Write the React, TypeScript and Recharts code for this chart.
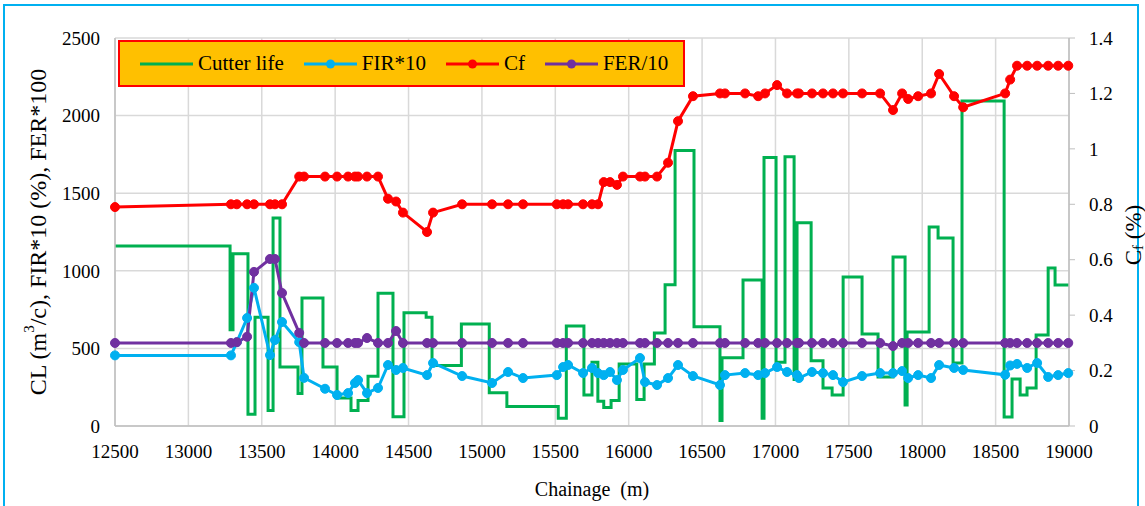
import { ComposedChart, Line, XAxis, YAxis, CartesianGrid, Legend } from 'recharts';

const FONT = '"Liberation Serif", "Times New Roman", serif';

// chainage of the sampled points (m)
const pointChainage = [
  12500, 13290, 13330, 13400, 13447, 13556, 13590, 13638, 13755, 13788,
  13931, 14013, 14088, 14135, 14156, 14217, 14292, 14360, 14415, 14462,
  14626, 14667, 14865, 15069, 15178, 15280, 15510, 15553, 15587, 15689,
  15750, 15791, 15830, 15873, 15920, 15961, 16077, 16111, 16193, 16268,
  16336, 16438, 16622, 16656, 16793, 16882, 16929, 17011, 17079, 17147,
  17160, 17249, 17324, 17392, 17460, 17590, 17713, 17801, 17863, 17904,
  17972, 18060, 18115, 18217, 18279, 18565, 18599, 18646, 18715, 18783,
  18858, 18926, 18995,
];

// Cf (%), right axis
const cfValues = [
  0.79, 0.8, 0.8, 0.8, 0.8, 0.8, 0.8, 0.8, 0.9, 0.9,
  0.9, 0.9, 0.9, 0.9, 0.9, 0.9, 0.9, 0.82, 0.81, 0.77,
  0.7, 0.77, 0.8, 0.8, 0.8, 0.8, 0.8, 0.8, 0.8, 0.8,
  0.8, 0.8, 0.88, 0.88, 0.87, 0.9, 0.9, 0.9, 0.9, 0.95,
  1.1, 1.19, 1.2, 1.2, 1.2, 1.19, 1.2, 1.23, 1.2, 1.2,
  1.2, 1.2, 1.2, 1.2, 1.2, 1.2, 1.2, 1.14, 1.2, 1.18,
  1.19, 1.2, 1.27, 1.19, 1.15, 1.2, 1.25, 1.3, 1.3, 1.3,
  1.3, 1.3, 1.3,
];

// FIR*10
const firValues = [
  455, 455, 540, 696, 890, 457, 554, 670, 540, 310,
  240, 200, 212, 277, 296, 212, 245, 393, 361, 374,
  328, 406, 322, 277, 348, 309, 328, 380, 393, 341,
  374, 341, 328, 348, 296, 361, 438, 283, 264, 309,
  393, 322, 264, 328, 341, 328, 341, 380, 348, 328,
  309, 348, 341, 328, 283, 322, 341, 341, 354, 309,
  328, 309, 393, 374, 361, 330, 390, 400, 374, 406,
  316, 328, 341,
];

// FER/10
const ferValues = [
  535, 535, 540, 575, 993, 1076, 1076, 857, 600, 535,
  535, 535, 535, 535, 535, 567, 535, 535, 612, 535,
  535, 535, 535, 535, 535, 535, 535, 535, 535, 535,
  535, 535, 535, 535, 535, 535, 535, 535, 535, 535,
  535, 535, 535, 535, 535, 535, 535, 535, 535, 535,
  535, 535, 535, 535, 535, 535, 535, 515, 535, 535,
  535, 535, 535, 535, 535, 535, 535, 535, 535, 535,
  535, 535, 535,
];

// cutter life steps: value holds from this chainage to the next one
const lifeChainage = [
  12500, 13284, 13304, 13406, 13454, 13543, 13577, 13624, 13747, 13774,
  13917, 14013, 14108, 14156, 14224, 14292, 14394, 14469, 14620, 14660,
  14860, 15050, 15170, 15520, 15575, 15695, 15750, 15790, 15830, 15880,
  15935, 16055, 16105, 16175, 16248, 16316, 16445, 16622, 16636, 16779,
  16909, 16922, 17004, 17065, 17127, 17147, 17243, 17324, 17386, 17461,
  17590, 17699, 17801, 17883, 17897, 18047, 18108, 18210, 18271, 18558,
  18612, 18667, 18714, 18776, 18858, 18905, 19000,
];
const lifeValues = [
  1160, 620, 1110, 75, 700, 100, 1340, 380, 210, 825,
  380, 180, 100, 165, 320, 855, 60, 730, 700, 390,
  657, 215, 125, 50, 645, 200, 410, 160, 120, 165,
  400, 170, 400, 600, 910, 1775, 640, 35, 440, 940,
  50, 1730, 410, 1735, 300, 1310, 420, 245, 200, 960,
  593, 316, 1089, 135, 606, 1282, 1211, 406, 2094, 58,
  303, 200, 245, 586, 1018, 908, 908,
];

const xTicks = [12500, 13000, 13500, 14000, 14500, 15000, 15500, 16000, 16500, 17000, 17500, 18000, 18500, 19000];
const leftTicks = [0, 500, 1000, 1500, 2000, 2500];
const rightTicks = [0, 0.2, 0.4, 0.6, 0.8, 1, 1.2, 1.4];

const pointRows = pointChainage.map((x, i) => ({ x, cf: cfValues[i], fir: firValues[i], fer: ferValues[i] }));
const lifeRows = lifeChainage.map((x, i) => ({ x, life: lifeValues[i] }));

const legendItems = [
  { name: 'Cutter life', color: '#00B050', dot: false },
  { name: 'FIR*10', color: '#00B0F0', dot: true },
  { name: 'Cf', color: '#FF0000', dot: true },
  { name: 'FER/10', color: '#7030A0', dot: true },
];

function LegendBox() {
  return (
    <div style={{
      width: 567, height: 47, boxSizing: 'border-box', background: '#FFC000',
      border: '2px solid #FF0000', display: 'flex', alignItems: 'center',
      paddingLeft: 20, fontSize: 21, fontFamily: FONT, color: '#000', whiteSpace: 'nowrap',
    }}>
      {legendItems.map((it) => (
        <div key={it.name} style={{ display: 'flex', alignItems: 'center', marginRight: 20, flexShrink: 0 }}>
          <svg width={53} height={12}>
            <line x1={0} x2={53} y1={6} y2={6} stroke={it.color} strokeWidth={3} />
            {it.dot && <circle cx={26.5} cy={6} r={4.5} fill={it.color} />}
          </svg>
          <span style={{ marginLeft: 5 }}>{it.name}</span>
        </div>
      ))}
    </div>
  );
}

const leftTitle = () => {
  const cx = 38;
  const cy = 232;
  return (
    <text x={cx} y={cy} transform={`rotate(-90 ${cx} ${cy})`} textAnchor="middle" dominantBaseline="central"
      fontSize={24} fill="#000" fontFamily={FONT}>
      CL (m<tspan fontSize={15} dy={-9}>3</tspan><tspan dy={9}>/c), FIR*10 (%), FER*100</tspan>
    </text>
  );
};

const rightTitle = () => {
  const cx = 1133;
  const cy = 235;
  return (
    <text x={cx} y={cy} transform={`rotate(-90 ${cx} ${cy})`} textAnchor="middle" dominantBaseline="central"
      fontSize={23} fill="#000" fontFamily={FONT}>
      C<tspan fontSize={15} dy={5}>f</tspan><tspan dy={-5}> (%)</tspan>
    </text>
  );
};

const bottomTitle = (props: any) => {
  const vb = props.viewBox;
  return (
    <text x={vb.x + vb.width / 2} y={489} textAnchor="middle" dominantBaseline="central"
      fontSize={20} fill="#000" fontFamily={FONT} style={{ whiteSpace: 'pre' }}>
      Chainage  (m)
    </text>
  );
};

const tickStyle = { fontSize: 19, fill: '#000', fontFamily: FONT };

export default function App() {
  return (
    <div style={{ position: 'absolute', left: 0, top: 0, width: 1145, height: 506, overflow: 'hidden', background: '#fff', fontFamily: FONT }}>
      <div style={{ position: 'absolute', left: 3, top: 4, width: 1132, height: 540, border: '2px solid #00B0F0' }} />
      <ComposedChart width={1145} height={506} data={pointRows} margin={{ top: 38, right: 0, bottom: 0, left: 0 }}>
        <CartesianGrid yAxisId="left" stroke="#D9D9D9" strokeWidth={1.5} />
        <XAxis type="number" dataKey="x" domain={[12500, 19000]} ticks={xTicks} interval={0}
          height={80} tick={tickStyle} tickLine={false} tickSize={0} tickMargin={19}
          axisLine={{ stroke: '#BFBFBF', strokeWidth: 1.5 }} label={{ content: bottomTitle }} />
        <YAxis yAxisId="left" orientation="left" domain={[0, 2500]} ticks={leftTicks} width={115}
          tick={tickStyle} tickLine={false} tickSize={0} tickMargin={15}
          axisLine={{ stroke: '#BFBFBF', strokeWidth: 1.5 }} label={{ content: leftTitle }} />
        <YAxis yAxisId="right" orientation="right" domain={[0, 1.4]} ticks={rightTicks} width={76}
          tick={tickStyle} tickLine={{ stroke: '#BFBFBF' }} tickSize={6} tickMargin={14}
          axisLine={{ stroke: '#BFBFBF', strokeWidth: 1.5 }} label={{ content: rightTitle }} />
        <Legend layout="vertical" align="center" verticalAlign="middle" content={<LegendBox />}
          wrapperStyle={{ left: 118, top: 40, width: 567, height: 47 }} />
        <Line yAxisId="left" data={lifeRows} dataKey="life" name="Cutter life" type="stepAfter"
          stroke="#00B050" strokeWidth={3} dot={false} activeDot={false} isAnimationActive={false} />
        <Line yAxisId="left" dataKey="fir" name="FIR*10" type="linear" stroke="#00B0F0" strokeWidth={3}
          dot={{ r: 4.5, fill: '#00B0F0', stroke: '#00B0F0', strokeWidth: 1 }} activeDot={false} isAnimationActive={false} />
        <Line yAxisId="right" dataKey="cf" name="Cf" type="linear" stroke="#FF0000" strokeWidth={3}
          dot={{ r: 4.5, fill: '#FF0000', stroke: '#FF0000', strokeWidth: 1 }} activeDot={false} isAnimationActive={false} />
        <Line yAxisId="left" dataKey="fer" name="FER/10" type="linear" stroke="#7030A0" strokeWidth={3}
          dot={{ r: 4.5, fill: '#7030A0', stroke: '#7030A0', strokeWidth: 1 }} activeDot={false} isAnimationActive={false} />
      </ComposedChart>
    </div>
  );
}
